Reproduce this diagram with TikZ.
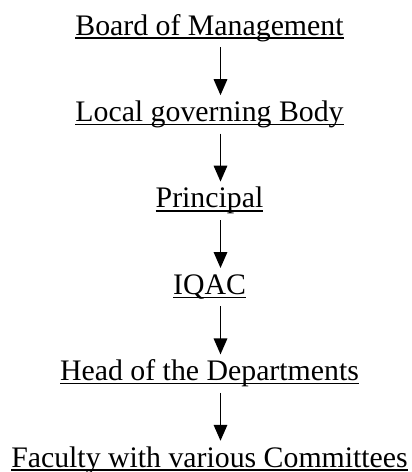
\documentclass[tikz,border=0pt]{standalone}
\usepackage{fontspec}
\setmainfont{Liberation Serif}
\usetikzlibrary{positioning,arrows.meta}
\def\OrgGap{59pt}
\def\ArrShift{11pt}
\newcommand{\ulbox}[1]{\setbox0\hbox{#1}\rlap{\rule[-3.8pt]{\wd0}{1.4pt}}\box0}

\begin{document}
\begin{tikzpicture}[
  lbl/.style={inner sep=0pt, text height=20pt, text depth=7pt, font=\fontsize{29.8}{34}\selectfont},
  flow/.style={line width=1.7pt, -{Triangle[length=16pt,width=13.5pt]}}]
  \useasboundingbox (0,0) rectangle (412pt,-472pt);
  % levels, top to bottom
  \node[lbl,anchor=base] (bom) at (209.5pt,-35pt) {\ulbox{Board of Management}};
  \node[lbl,below=\OrgGap of bom] (lgb) {\ulbox{Local governing Body}};
  \node[lbl,below=\OrgGap of lgb] (prin) {\ulbox{Principal}};
  \node[lbl,below=\OrgGap of prin] (iqac) {\ulbox{IQAC}};
  \node[lbl,below=\OrgGap of iqac] (hod) {\ulbox{Head of the Departments}};
  \node[lbl,below=\OrgGap of hod] (fac) {\ulbox{Faculty with various Committees}};
  % arrows sit a bit right of the centre line
  \foreach \a/\b in {bom/lgb,lgb/prin,prin/iqac,iqac/hod,hod/fac}
    \draw[flow] ([xshift=\ArrShift,yshift=-5pt]\a.south) -- ([xshift=\ArrShift,yshift=6pt]\b.north);
\end{tikzpicture}
\end{document}
